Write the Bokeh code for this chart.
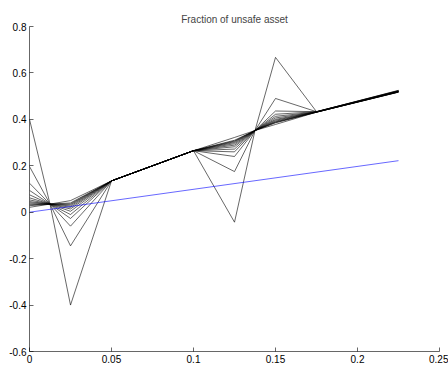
from bokeh.plotting import figure
from bokeh.models import FixedTicker, CustomJSTickFormatter, Range1d
from bokeh.embed import file_html
from bokeh.resources import INLINE

# x positions of the solution nodes
x_nodes = [0.0, 0.0125, 0.025, 0.05, 0.1, 0.125, 0.1375, 0.15, 0.175, 0.225]

# value of each iterate (1..12, then converged) at each node
y_n0 = [0.400, 0.197, 0.125, 0.094, 0.075, 0.062, 0.053, 0.046, 0.041, 0.036, 0.032, 0.028, 0.021]
y_n1 = [0.035, 0.035, 0.035, 0.035, 0.035, 0.035, 0.035, 0.035, 0.035, 0.035, 0.035, 0.035, 0.035]
y_n2 = [-0.400, -0.145, -0.060, -0.027, -0.010, 0.004, 0.014, 0.021, 0.027, 0.032, 0.036, 0.040, 0.050]
y_n3 = [0.135, 0.135, 0.135, 0.135, 0.135, 0.135, 0.135, 0.135, 0.135, 0.135, 0.135, 0.135, 0.135]
y_n4 = [0.265, 0.265, 0.265, 0.265, 0.265, 0.265, 0.265, 0.265, 0.265, 0.265, 0.265, 0.265, 0.265]
y_n5 = [-0.043, 0.175, 0.240, 0.260, 0.272, 0.282, 0.289, 0.295, 0.300, 0.304, 0.307, 0.310, 0.322]
y_n6 = [0.352, 0.352, 0.352, 0.352, 0.352, 0.352, 0.352, 0.352, 0.352, 0.352, 0.352, 0.352, 0.352]
y_n7 = [0.667, 0.490, 0.436, 0.422, 0.413, 0.406, 0.400, 0.396, 0.392, 0.389, 0.387, 0.385, 0.378]
y_n8 = [0.433, 0.433, 0.433, 0.433, 0.432, 0.432, 0.432, 0.432, 0.432, 0.431, 0.431, 0.431, 0.431]
y_n9 = [0.525, 0.524, 0.523, 0.522, 0.521, 0.520, 0.520, 0.519, 0.519, 0.518, 0.518, 0.518, 0.517]

# reference line (blue)
blue_x = [0.0, 0.225]
blue_y = [0.0, 0.222]

x_ticks = [0, 0.05, 0.1, 0.15, 0.2, 0.25]
y_ticks = [-0.6, -0.4, -0.2, 0, 0.2, 0.4, 0.6, 0.8]

node_values = [y_n0, y_n1, y_n2, y_n3, y_n4, y_n5, y_n6, y_n7, y_n8, y_n9]
n_lines = len(y_n0)

FONT = "Liberation Sans"

p = figure(width=448, height=367,
           x_range=Range1d(0, 0.25), y_range=Range1d(-0.6, 0.8),
           output_backend="svg", toolbar_location=None,
           title="Fraction of unsafe asset")
p.title.align = "center"
p.title.text_font = FONT
p.title.text_font_size = "10px"
p.title.text_font_style = "normal"
p.title.standoff = 4
p.title.offset = 0

p.xgrid.visible = False
p.ygrid.visible = False
p.outline_line_color = None
p.background_fill_color = "white"
p.border_fill_color = "white"
p.min_border_left = 29
p.min_border_right = 9
p.min_border_top = 26
p.min_border_bottom = 16

fmt = CustomJSTickFormatter(code="return String(Math.round(tick*100)/100);")
for ax, ticks in ((p.xaxis, x_ticks), (p.yaxis, y_ticks)):
    ax.ticker = FixedTicker(ticks=ticks)
    ax.formatter = fmt
    ax.major_tick_in = 4
    ax.major_tick_out = 0
    ax.minor_tick_in = 0
    ax.minor_tick_out = 0
    ax.axis_line_color = "black"
    ax.axis_line_width = 0.6
    ax.major_tick_line_color = "black"
    ax.major_tick_line_width = 0.6
    ax.major_label_text_font = FONT
    ax.major_label_text_font_size = "10px"
    ax.major_label_text_color = "black"
    ax.major_label_standoff = 3

for i in range(n_lines):
    ys = [vals[i] for vals in node_values]
    p.line(x_nodes, ys, line_color="black", line_width=0.6)

p.line(blue_x, blue_y, line_color="blue", line_width=0.6)

open("out.html", "w").write(file_html(p, INLINE))
